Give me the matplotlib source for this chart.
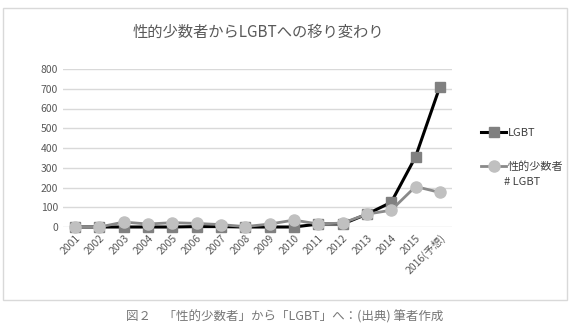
import matplotlib.pyplot as plt
from matplotlib.patches import Rectangle

plt.rcParams['font.family'] = ['Noto Sans CJK JP', 'DejaVu Sans']

years = ['2001', '2002', '2003', '2004', '2005', '2006', '2007', '2008',
         '2009', '2010', '2011', '2012', '2013', '2014', '2015', '2016(予想)']
lgbt = [0, 0, 0, 0, 0, 2, 2, 0, 0, 0, 15, 15, 65, 125, 355, 710]
seiteki = [0, 0, 25, 15, 22, 18, 12, 2, 15, 35, 15, 20, 65, 85, 205, 175]

fig = plt.figure(figsize=(5.73, 3.23), dpi=100)
ax = fig.add_axes([63/573, 1-227/323, 389/573, 158/323])

# chart frame
fig.patches.append(Rectangle((3/573, 1-300/323), 564/573, 292/323,
                             transform=fig.transFigure, fill=False,
                             edgecolor='#d9d9d9', linewidth=1))

x = range(len(years))
ax.plot(x, lgbt, color='black', linewidth=2.2, marker='s', markersize=7.5,
        markerfacecolor='#808080', markeredgecolor='#808080',
        label='LGBT', clip_on=False, zorder=3)
ax.plot(x, seiteki, color='#8a8a8a', linewidth=2, marker='o', markersize=8,
        markerfacecolor='#c0c0c0', markeredgecolor='#c0c0c0',
        label='性的少数者', clip_on=False, zorder=4)

ax.set_xlim(-0.5, 15.5)
ax.set_ylim(0, 800)
ax.set_yticks(range(0, 900, 100))
ax.grid(axis='y', color='#d9d9d9', linewidth=1)
ax.set_axisbelow(True)
for s in ax.spines.values():
    s.set_visible(False)
ax.tick_params(length=0, colors='#595959', labelsize=7.5)
ax.set_xticks(list(x))
ax.set_xticklabels(years, rotation=45, ha='right', rotation_mode='anchor')
ax.tick_params(axis='x', pad=4)

fig.text(258/573, 1-32/323, '性的少数者からLGBTへの移り変わり',
         ha='center', va='center', fontsize=11, color='#595959')

leg = ax.legend(loc='center left', bbox_to_anchor=(1.05, (227-150)/158),
                frameon=False, fontsize=8, handlelength=2.2,
                handletextpad=0.2, labelspacing=2.1, labelcolor='#404040')
fig.text(522/573, 1-182/323, '# LGBT', ha='center', va='center',
         fontsize=8, color='#404040')

fig.text(285/573, 1-317/323, '図２　「性的少数者」から「LGBT」へ：(出典) 筆者作成',
         ha='center', va='center', fontsize=9, color='#777777')

fig.savefig('out.png', dpi=100)
